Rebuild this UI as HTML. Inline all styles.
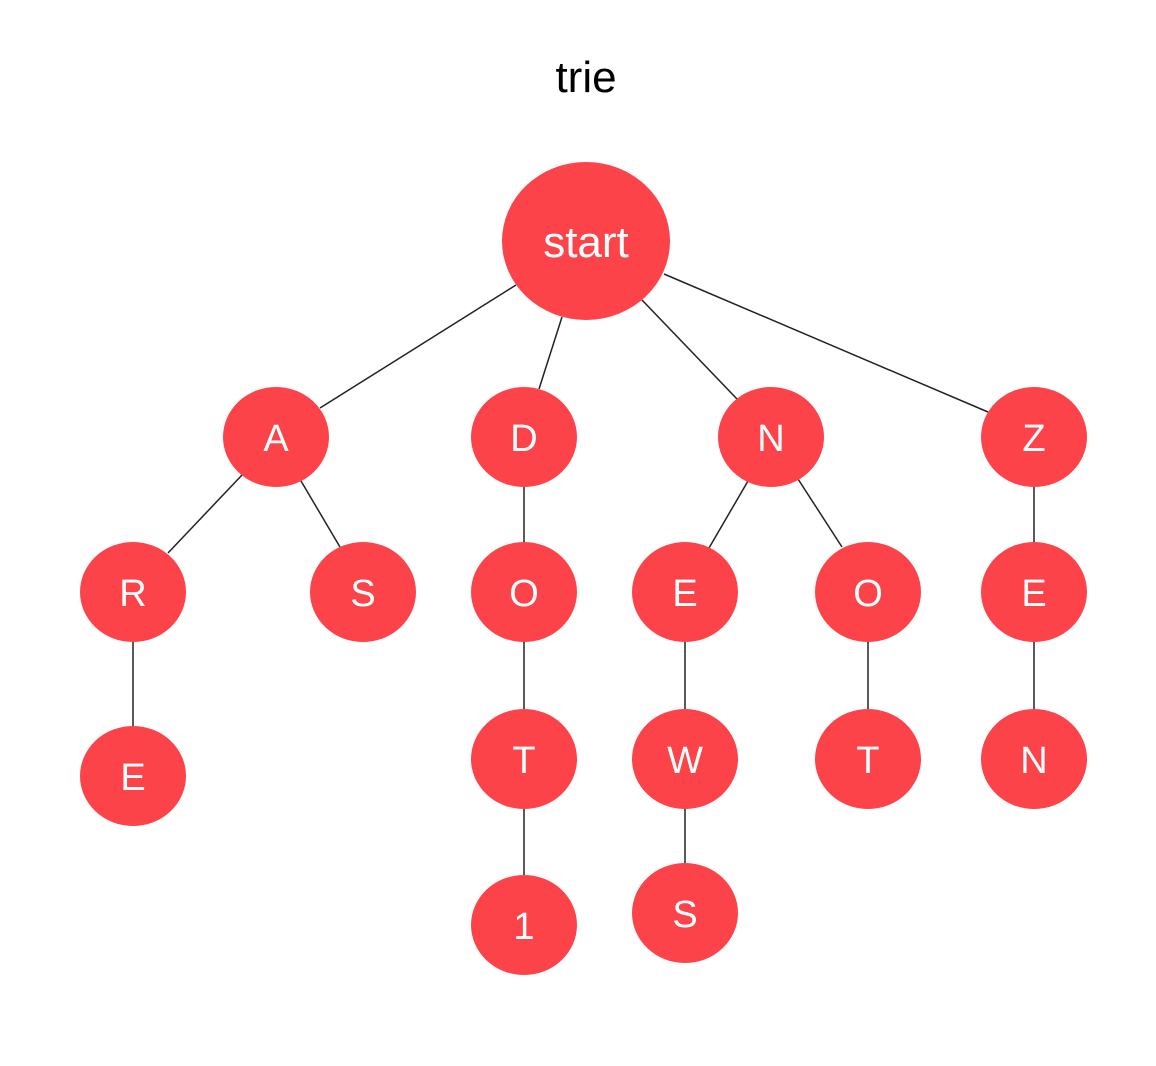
<!DOCTYPE html>
<html><head><meta charset="utf-8"><style>
html,body{margin:0;padding:0;background:#fff;}
svg{display:block;}
text{font-family:"Liberation Sans",sans-serif;}
</style></head><body>
<svg width="1156" height="1066" viewBox="0 0 1156 1066" xmlns="http://www.w3.org/2000/svg">
<text x="586" y="92" font-size="44" text-anchor="middle" fill="#000">trie</text>
<g stroke="#222" stroke-width="1.5" fill="none">
<line x1="516" y1="285" x2="320" y2="408"/>
<line x1="562" y1="317" x2="539" y2="389"/>
<line x1="642" y1="300" x2="737" y2="399"/>
<line x1="664" y1="274" x2="988" y2="412"/>
<line x1="242" y1="475" x2="168" y2="553"/>
<line x1="301" y1="481" x2="340" y2="547"/>
<line x1="748" y1="481" x2="709" y2="548"/>
<line x1="798" y1="479" x2="842" y2="547"/>
<line x1="133" y1="640" x2="133" y2="728"/>
<line x1="524" y1="485" x2="524" y2="544"/>
<line x1="524" y1="640" x2="524" y2="710"/>
<line x1="524" y1="807" x2="524" y2="877"/>
<line x1="685" y1="640" x2="685" y2="710"/>
<line x1="685" y1="807" x2="685" y2="865"/>
<line x1="868" y1="640" x2="868" y2="710"/>
<line x1="1034" y1="485" x2="1034" y2="544"/>
<line x1="1034" y1="640" x2="1034" y2="710"/>
</g>
<g fill="#fc434a">
<ellipse cx="586" cy="241" rx="84" ry="79"/>
<ellipse cx="276" cy="437" rx="53" ry="50"/>
<ellipse cx="524" cy="437" rx="53" ry="50"/>
<ellipse cx="771" cy="437" rx="53" ry="50"/>
<ellipse cx="1034" cy="437" rx="53" ry="50"/>
<ellipse cx="133" cy="592" rx="53" ry="50"/>
<ellipse cx="363" cy="592" rx="53" ry="50"/>
<ellipse cx="524" cy="592" rx="53" ry="50"/>
<ellipse cx="685" cy="592" rx="53" ry="50"/>
<ellipse cx="868" cy="592" rx="53" ry="50"/>
<ellipse cx="1034" cy="592" rx="53" ry="50"/>
<ellipse cx="133" cy="776" rx="53" ry="50"/>
<ellipse cx="524" cy="759" rx="53" ry="50"/>
<ellipse cx="685" cy="759" rx="53" ry="50"/>
<ellipse cx="868" cy="759" rx="53" ry="50"/>
<ellipse cx="1034" cy="759" rx="53" ry="50"/>
<ellipse cx="524" cy="925" rx="53" ry="50"/>
<ellipse cx="685" cy="913" rx="53" ry="50"/>
</g>
<g fill="#fff" font-size="38" text-anchor="middle">
<text x="586" y="257" font-size="44">start</text>
<text x="276" y="451">A</text>
<text x="524" y="451">D</text>
<text x="771" y="451">N</text>
<text x="1034" y="451">Z</text>
<text x="133" y="606">R</text>
<text x="363" y="606">S</text>
<text x="524" y="606">O</text>
<text x="685" y="606">E</text>
<text x="868" y="606">O</text>
<text x="1034" y="606">E</text>
<text x="133" y="790">E</text>
<text x="524" y="773">T</text>
<text x="685" y="773">W</text>
<text x="868" y="773">T</text>
<text x="1034" y="773">N</text>
<text x="524" y="939">1</text>
<text x="685" y="927">S</text>
</g>
</svg>
</body></html>
